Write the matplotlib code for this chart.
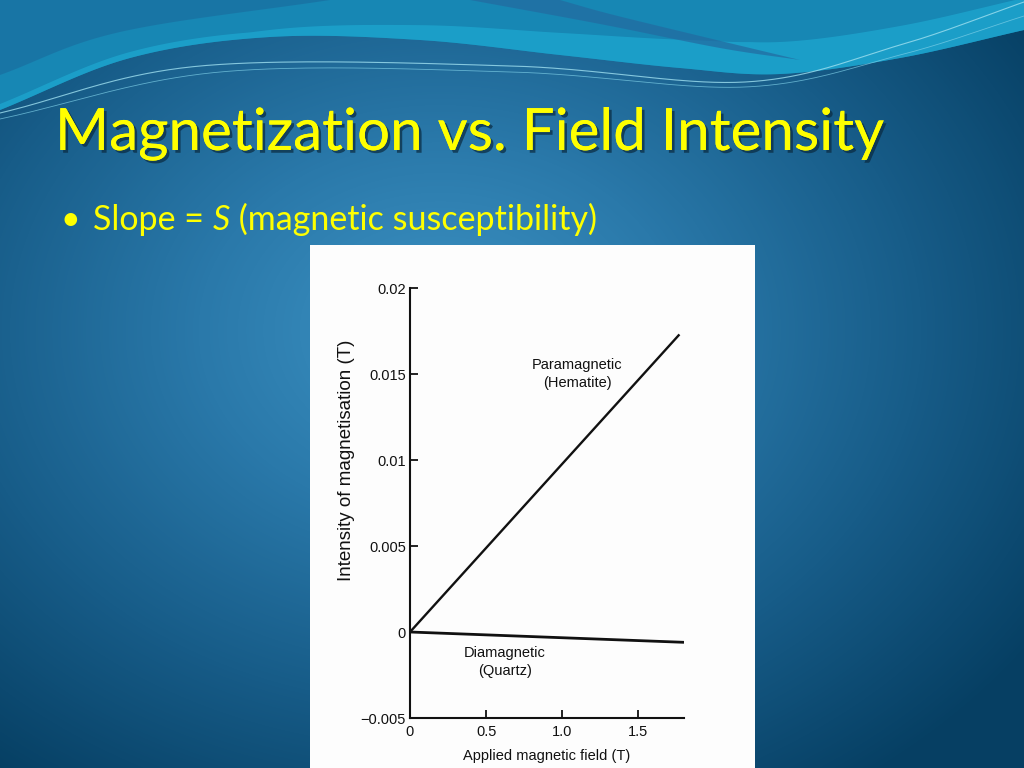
import numpy as np
import matplotlib
matplotlib.use('Agg')
import matplotlib.pyplot as plt
from matplotlib import patheffects
from matplotlib.colors import LinearSegmentedColormap

# Data
field_para = [0, 1.77]
magn_para = [0, 0.0173]
field_dia = [0, 1.80]
magn_dia = [0, -0.0006]

yticks = [-0.005, 0, 0.005, 0.01, 0.015, 0.02]
ytick_labels = ['\u22120.005', '0', '0.005', '0.01', '0.015', '0.02']
xticks = [0, 0.5, 1.0, 1.5]
xtick_labels = ['0', '0.5', '1.0', '1.5']

W, H = 1024, 768
fig = plt.figure(figsize=(10.24, 7.68), dpi=100)

# Slide background: radial blue gradient
bg = fig.add_axes([0, 0, 1, 1])
bg.set_xlim(0, W)
bg.set_ylim(H, 0)
bg.axis('off')
xx, yy = np.meshgrid(np.arange(W), np.arange(H))
d = np.sqrt(((xx - 440) / 720.0) ** 2 + ((yy - 330) / 560.0) ** 2)
d = np.clip(d, 0, 1)
cmap = LinearSegmentedColormap.from_list('slide', ['#3d93c4', '#2a79aa', '#175c88', '#063f63'])
bg.imshow(d, cmap=cmap, extent=(0, W, H, 0), aspect='auto', zorder=0)


# smooth curve through a few points (decoration only)
def smooth(pts, n=40):
    pts = np.array(pts, dtype=float)
    p = np.vstack([2 * pts[0] - pts[1], pts, 2 * pts[-1] - pts[-2]])
    out = []
    t = np.linspace(0, 1, n)[:, None]
    for i in range(1, len(p) - 2):
        p0, p1, p2, p3 = p[i - 1], p[i], p[i + 1], p[i + 2]
        out.append(0.5 * (2 * p1 + (-p0 + p2) * t + (2 * p0 - 5 * p1 + 4 * p2 - p3) * t ** 2
                          + (-p0 + 3 * p1 - 3 * p2 + p3) * t ** 3))
    return np.vstack(out)


edge = smooth([(0, 110), (130, 58), (270, 37), (420, 40), (560, 55), (680, 68), (780, 74), (900, 58), (1024, 30)])
teal = np.vstack([[(0, 0)], edge, [(1024, 0)]])
bg.fill(teal[:, 0], teal[:, 1], color='#1787b4', lw=0, zorder=1)
# brighter cyan strip hugging the lower edge
lift = np.clip((edge[:, 0] - 250) / 500.0, 0, 1) * 26 + 6
band = np.vstack([edge, (edge - np.column_stack([np.zeros(len(lift)), lift]))[::-1]])
bg.fill(band[:, 0], band[:, 1], color='#1ca3cc', lw=0, zorder=1.2, alpha=0.85)
# darker streak on the upper right
streak = np.vstack([smooth([(470, 0), (600, 24), (720, 48), (800, 60)]),
                    smooth([(800, 60), (700, 36), (610, 14), (560, 0)])])
bg.fill(streak[:, 0], streak[:, 1], color='#236aa0', lw=0, zorder=1.4, alpha=0.7)
corner = np.vstack([[(0, 0)], smooth([(0, 75), (120, 32), (330, 0)])])
bg.fill(corner[:, 0], corner[:, 1], color='#1a6a9c', lw=0, zorder=1.3, alpha=0.6)
l1 = smooth([(0, 113), (200, 66), (512, 66), (745, 82), (900, 45), (1024, 2)])
bg.plot(l1[:, 0], l1[:, 1], color='#9fe0f0', lw=0.8, alpha=0.8, zorder=3)
l2 = smooth([(0, 119), (220, 72), (512, 72), (745, 87), (900, 55), (1024, 16)])
bg.plot(l2[:, 0], l2[:, 1], color='#7fd0e8', lw=0.6, alpha=0.7, zorder=3)

# Title and bullet
title = fig.text(55 / W, 1 - 150 / H, 'Magnetization vs. Field Intensity',
                 color='#ffff00', fontsize=42, family='Lato', va='baseline',
                 path_effects=[patheffects.withSimplePatchShadow(offset=(2, -2), shadow_rgbFace='#0a2a40', alpha=0.7),
                               patheffects.Normal()])
fs = 24.5
fig.text(60 / W, 1 - 230 / H, '\u2022', color='#ffff00', fontsize=fs, family='Lato', va='baseline')
t1 = fig.text(93 / W, 1 - 230 / H, 'Slope = ', color='#ffff00', fontsize=fs, family='Lato', va='baseline')
t2 = fig.text(0, 0, 'S', color='#ffff00', fontsize=fs, family='Lato', style='italic', va='baseline')
t3 = fig.text(0, 0, ' (magnetic susceptibility)', color='#ffff00', fontsize=fs, family='Lato', va='baseline')
fig.canvas.draw()
r = fig.canvas.get_renderer()
bb1 = t1.get_window_extent(r)
t2.set_position((bb1.x1 / W, 1 - 230 / H))
bb2 = t2.get_window_extent(r)
t3.set_position((bb2.x1 / W, 1 - 230 / H))

# White figure panel
panel = fig.add_axes([310 / W, 0, 445 / W, (H - 245) / H])
panel.set_facecolor('#fdfdfd')
panel.set_xticks([])
panel.set_yticks([])
for s in panel.spines.values():
    s.set_visible(False)

# Chart
ax = fig.add_axes([410 / W, (H - 718) / H, 274 / W, 430 / H])
ax.patch.set_alpha(0)
ax.plot(field_para, magn_para, color='#111111', lw=1.7, solid_capstyle='butt')
ax.plot(field_dia, magn_dia, color='#111111', lw=2.0, solid_capstyle='butt')
ax.set_xlim(0, 1.8)
ax.set_ylim(-0.005, 0.02)
ax.spines['top'].set_visible(False)
ax.spines['right'].set_visible(False)
for s in ['left', 'bottom']:
    ax.spines[s].set_linewidth(1.5)
    ax.spines[s].set_color('#111111')
ax.set_yticks(yticks)
ax.set_yticklabels(ytick_labels)
ax.set_xticks(xticks)
ax.set_xticklabels(xtick_labels)
ax.tick_params(direction='in', length=6, width=1.3, colors='#111111', labelsize=10.5)
ax.tick_params(axis='x', pad=5)
ax.tick_params(axis='y', pad=3)
for lab in ax.get_xticklabels() + ax.get_yticklabels():
    lab.set_family('Liberation Sans')
ax.set_ylabel('Intensity of magnetisation (T)', fontsize=13.5, family='Liberation Sans', color='#111111')
ax.yaxis.set_label_coords(-0.2, 0.6)
ax.set_xlabel('Applied magnetic field (T)', fontsize=10.5, family='Liberation Sans', color='#111111')
ax.xaxis.set_label_coords(0.5, -0.072)

ax.text(1.10, 0.0150, 'Paramagnetic\n(Hematite)', ha='center', va='center',
        fontsize=10.5, family='Liberation Sans', color='#111111', linespacing=1.4)
ax.text(0.625, -0.00175, 'Diamagnetic\n(Quartz)', ha='center', va='center',
        fontsize=10.5, family='Liberation Sans', color='#111111', linespacing=1.4)

fig.savefig('out.png', dpi=100)
